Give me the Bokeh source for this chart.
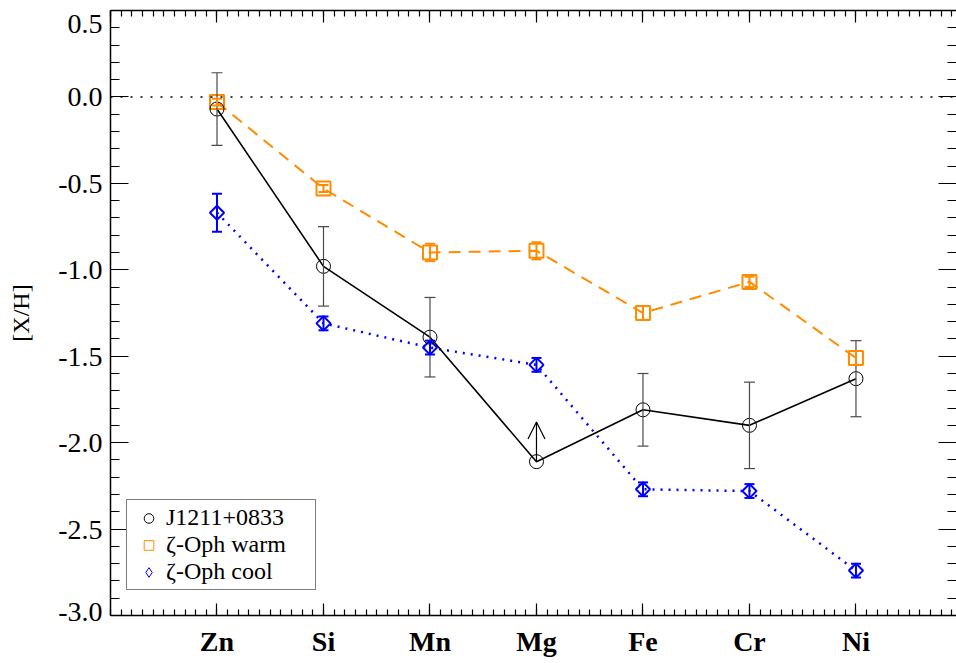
import numpy as np
from bokeh.plotting import figure
from bokeh.models import (Range1d, FixedTicker, LinearAxis, PrintfTickFormatter, Whisker,
                          TeeHead, ColumnDataSource, Arrow, OpenHead, Legend, LegendItem, Span)
from bokeh.embed import file_html
from bokeh.resources import INLINE

# Elements along the x axis (placed at integer positions 1..7)
elements = ["Zn", "Si", "Mn", "Mg", "Fe", "Cr", "Ni"]
element_pos = [1, 2, 3, 4, 5, 6, 7]

# J1211+0833 abundances [X/H] with 1-sigma errors; Mg is a lower limit
j1211_xh = [-0.07, -0.98, -1.39, -2.11, -1.81, -1.90, -1.63]
j1211_err = [0.21, 0.23, 0.23, 0.0, 0.21, 0.25, 0.22]
j1211_lower_limit = [False, False, False, True, False, False, False]

# zeta-Oph warm cloud
warm_xh = [-0.03, -0.53, -0.90, -0.89, -1.25, -1.07, -1.51]
warm_err = [0.02, 0.02, 0.05, 0.05, 0.04, 0.03, 0.04]

# zeta-Oph cool cloud
cool_xh = [-0.67, -1.31, -1.45, -1.55, -2.27, -2.28, -2.74]
cool_err = [0.11, 0.04, 0.04, 0.04, 0.04, 0.04, 0.04]

# axis ticks
y_major = [-3.0, -2.5, -2.0, -1.5, -1.0, -0.5, 0.0, 0.5]
y_minor = [round(v, 1) for v in np.arange(-3.0, 0.51, 0.1)]
x_major = [0, 1, 2, 3, 4, 5, 6, 7]
x_minor = [round(v, 1) for v in np.arange(0.0, 7.95, 0.1)]

LIMIT_ARROW = 0.23  # length of the lower-limit arrow in dex
SERIF = "Liberation Serif"
ORANGE = "#FF8C00"
BLUE = "#0000FF"
ERR_GREY = "#4a4a4a"

p = figure(width=956, height=663, output_backend="svg", toolbar_location=None,
           x_range=Range1d(0, 7.944), y_range=Range1d(y_major[0], y_major[-1]),
           min_border_left=110, min_border_right=0, min_border_top=10, min_border_bottom=48,
           background_fill_color="white", border_fill_color="white")
p.outline_line_color = None
p.xgrid.grid_line_color = None
p.ygrid.grid_line_color = None

x_ticker = FixedTicker(ticks=x_major, minor_ticks=x_minor)
y_ticker = FixedTicker(ticks=y_major, minor_ticks=y_minor)


def style_axis(ax, major_len, minor_len):
    ax.major_tick_in = major_len
    ax.major_tick_out = 0
    ax.minor_tick_in = minor_len
    ax.minor_tick_out = 0
    ax.axis_line_color = "black"
    ax.axis_line_width = 1.5
    ax.major_tick_line_color = "black"
    ax.minor_tick_line_color = "black"
    ax.major_tick_line_width = 1.2
    ax.minor_tick_line_width = 1.2


def hide_labels(ax):
    ax.major_label_text_font_size = "0px"
    ax.major_label_text_color = None
    ax.major_label_standoff = 0


xa = p.xaxis[0]
xa.ticker = FixedTicker(ticks=element_pos, minor_ticks=x_minor)
xa.major_label_overrides = {pos: name for pos, name in zip(element_pos, elements)}
xa.major_label_text_font = SERIF
xa.major_label_text_font_size = "28px"
xa.major_label_text_font_style = "bold"
xa.major_label_text_color = "black"
xa.major_label_standoff = 10
style_axis(xa, 12, 6)

ya = p.yaxis[0]
ya.ticker = y_ticker
ya.formatter = PrintfTickFormatter(format="%.1f")
# keep the end labels inside the frame height: nudge them inward a little
ya.major_label_overrides = {y_major[-1]: " \n%.1f" % y_major[-1],
                            y_major[0]: "%.1f\n" % y_major[0]}
ya.major_label_text_line_height = 0.25
ya.major_label_text_font = SERIF
ya.major_label_text_font_size = "28px"
ya.major_label_text_color = "black"
ya.major_label_standoff = 8
ya.axis_label = "[X/H]"
ya.axis_label_text_font = SERIF
ya.axis_label_text_font_size = "24px"
ya.axis_label_text_font_style = "normal"
ya.axis_label_text_color = "black"
ya.axis_label_standoff = 21
style_axis(ya, 18, 9)

top_axis = LinearAxis(ticker=x_ticker)
hide_labels(top_axis)
style_axis(top_axis, 12, 6)
p.add_layout(top_axis, "above")

right_axis = LinearAxis(ticker=y_ticker)
hide_labels(right_axis)
style_axis(right_axis, 18, 9)
right_axis.axis_line_color = None
p.add_layout(right_axis, "right")

# Solar reference level
p.add_layout(Span(location=0, dimension="width", line_color="black",
                  line_width=1.5, line_dash="2 8"))

# Connecting lines
p.line(element_pos, warm_xh, line_color=ORANGE, line_width=2, line_dash="12 8")
p.line(element_pos, cool_xh, line_color=BLUE, line_width=2.5, line_dash="2 6")
p.line(element_pos, j1211_xh, line_color="black", line_width=1.6)


# Error bars
def add_errors(xs, ys, errs, color, width, cap):
    src = ColumnDataSource(dict(x=xs, upper=[y + e for y, e in zip(ys, errs)],
                                lower=[y - e for y, e in zip(ys, errs)]))
    p.add_layout(Whisker(source=src, base="x", upper="upper", lower="lower",
                         line_color=color, line_width=width, level="glyph",
                         upper_head=TeeHead(size=cap, line_color=color, line_width=width),
                         lower_head=TeeHead(size=cap, line_color=color, line_width=width)))


det = [i for i, lim in enumerate(j1211_lower_limit) if not lim]
add_errors([element_pos[i] for i in det], [j1211_xh[i] for i in det],
           [j1211_err[i] for i in det], ERR_GREY, 1.2, 11)
add_errors(element_pos, warm_xh, warm_err, ORANGE, 2, 10)
add_errors(element_pos, cool_xh, cool_err, BLUE, 2, 10)

# Lower-limit arrows
lim = [i for i, l in enumerate(j1211_lower_limit) if l]
lim_src = ColumnDataSource(dict(x=[element_pos[i] for i in lim],
                                y0=[j1211_xh[i] for i in lim],
                                y1=[j1211_xh[i] + LIMIT_ARROW for i in lim]))
p.add_layout(Arrow(source=lim_src, x_start="x", y_start="y0", x_end="x", y_end="y1",
                   line_color="black", line_width=1.2,
                   end=OpenHead(size=17, line_color="black", line_width=1.2)))

# Markers
p.scatter(element_pos, warm_xh, marker="square", size=14, fill_color=None,
          line_color=ORANGE, line_width=2)
p.scatter(element_pos, cool_xh, marker="square", angle=np.pi / 4, size=10,
          fill_color=None, line_color=BLUE, line_width=2)
p.scatter(element_pos, j1211_xh, marker="circle", size=14, fill_color=None,
          line_color="black", line_width=1)

# Legend symbols: thin outlines, no points drawn in the plot area
nan = [float("nan")]
leg_j = p.scatter(nan, nan, marker="circle", size=12, fill_color=None,
                  line_color="black", line_width=1)
leg_w = p.scatter(nan, nan, marker="square", size=12, fill_color=None,
                  line_color=ORANGE, line_width=1)
leg_c = p.scatter(nan, nan, marker="diamond", size=15, fill_color=None,
                  line_color=BLUE, line_width=1)

legend = Legend(items=[LegendItem(label="J1211+0833", renderers=[leg_j]),
                       LegendItem(label="\u03b6-Oph warm", renderers=[leg_w]),
                       LegendItem(label="\u03b6-Oph cool", renderers=[leg_c])],
                location=(16, 25), border_line_color="black", border_line_width=1,
                background_fill_color="white", background_fill_alpha=1,
                label_text_font=SERIF, label_text_font_size="24px", label_text_color="black",
                padding=4, spacing=-1, glyph_width=35, glyph_height=24, label_height=24,
                label_standoff=0, label_width=145, margin=0)
p.add_layout(legend)

open("out.html", "w").write(file_html(p, INLINE))
